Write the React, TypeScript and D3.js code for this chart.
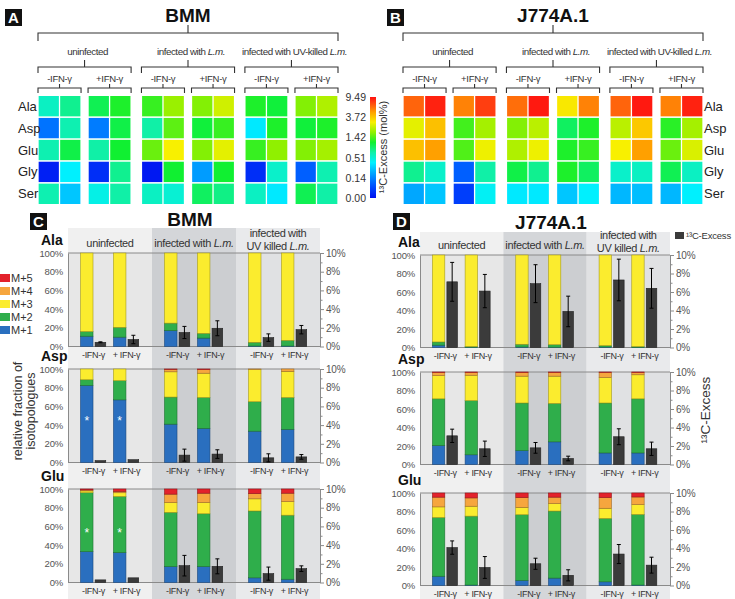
import React, { useEffect, useRef } from "react";
import * as d3 from "d3";

const FONT = "'Liberation Sans', Arial, sans-serif";

const aminoAcids = ["Ala", "Asp", "Glu", "Gly", "Ser"];
const groups = ["uninfected", "infected with L.m.", "infected with UV-killed L.m."];
const groupHeaders = [["uninfected"], ["infected with L.m."], ["infected with", "UV killed L.m."]];
const ifnHeat = ["-IFN-γ", "+IFN-γ"];
const ifnBar = ["-IFN-γ", "+ IFN-γ"];
const excessTicks = [0, 0.14, 0.51, 1.42, 3.72, 9.49];
const isoKeys = ["M+1", "M+2", "M+3", "M+4", "M+5"];
const isoColors = ["#2a6fbf", "#2fae4b", "#fbec2e", "#f6a63e", "#e3222b"];

// 13C-excess (mol%) per amino acid row, 12 columns: 3 groups x 2 IFN x 2 replicates
const bmmHeat = [
  [0.6, 0.83, 1.06, 1.24, 1.33, 2.11, 1.88, 2.69, 1.24, 1.15, 1.88, 2.34],
  [0.12, 0.69, 0.13, 1.1, 0.74, 1.54, 1.15, 1.33, 0.4, 1.24, 1.15, 1.24],
  [0.69, 1.1, 0.74, 1.19, 1.65, 3.15, 1.88, 2.92, 1.33, 2.0, 1.88, 2.23],
  [0.02, 0.42, 0.04, 0.83, 0.01, 1.19, 0.2, 1.19, 0.04, 0.56, 0.1, 0.69],
  [0.69, 0.31, 0.47, 0.74, 0.6, 0.51, 1.01, 0.87, 0.6, 0.4, 1.06, 0.74],
];
const j774Heat = [
  [6.89, 8.91, 6.03, 8.05, 6.61, 9.2, 3.26, 6.03, 6.89, 9.2, 6.03, 8.91],
  [2.92, 4.01, 1.37, 2.23, 1.88, 2.46, 1.01, 1.24, 2.46, 3.72, 1.28, 2.23],
  [4.01, 5.16, 1.42, 3.03, 2.34, 3.03, 1.24, 1.33, 3.15, 5.16, 1.65, 2.8],
  [0.83, 0.56, 0.1, 0.74, 1.1, 0.83, 1.24, 1.01, 0.56, 0.6, 1.06, 0.6],
  [0.23, 0.31, 0.06, 0.44, 0.4, 0.4, 0.31, 0.42, 0.27, 0.29, 0.27, 0.42],
];

// isotopologue fractions (%) M+1..M+5, six conditions each
const bmmAlaIso = [[11, 5, 84, 0, 0], [10, 10.5, 79.5, 0, 0], [17, 8, 75, 0, 0], [9, 5, 86, 0, 0], [0.5, 4, 95.5, 0, 0], [0.5, 6, 93.5, 0, 0]];
const bmmAlaExcess = [0.45, 0.75, 1.5, 1.95, 0.95, 1.8];
const bmmAlaErr = [0.05, 0.45, 0.65, 0.8, 0.4, 0.45];
const bmmAspIso = [[82.5, 6, 11.5, 0, 0], [67, 20.5, 12.5, 0, 0], [41, 29, 27, 2.5, 0.5], [36.5, 33, 26, 3.8, 0.7], [33.5, 31.5, 34.5, 0.5, 0], [35.5, 34, 28, 2.5, 0]];
const bmmAspExcess = [0.2, 0.3, 0.79, 0.9, 0.5, 0.6];
const bmmAspErr = [0, 0, 0.64, 0.46, 0.43, 0.25];
const bmmGluIso = [[33, 63, 2, 1, 1], [32, 60, 4, 1.5, 2.5], [17, 58, 10.5, 9, 5.5], [17, 56.5, 12, 10, 4.5], [5, 71.5, 13, 5.5, 5], [3.5, 68.5, 14.5, 9, 4.5]];
const bmmGluExcess = [0.28, 0.5, 1.8, 1.73, 0.95, 1.48];
const bmmGluErr = [0, 0, 1.1, 0.8, 0.7, 0.3];

const j774AlaIso = [[2.5, 3.5, 94, 0, 0], [0.3, 0.7, 99, 0, 0], [0.5, 3, 96.5, 0, 0], [0.3, 2.7, 97, 0, 0], [0.5, 1.5, 98, 0, 0], [0.2, 0.8, 99, 0, 0]];
const j774AlaExcess = [7.1, 6.1, 6.9, 3.9, 7.3, 6.4];
const j774AlaErr = [2.1, 1.8, 2.05, 1.65, 2.25, 2.15];
const j774AspIso = [[20.5, 50.5, 25, 3.5, 0.5], [10.5, 58.5, 27.5, 3, 0.5], [15, 51.5, 29, 4, 0.5], [24.5, 41.5, 29.5, 4, 0.5], [12.5, 54, 27.5, 5.5, 0.5], [12.5, 58.5, 26, 2.5, 0.5]];
const j774AspExcess = [3.1, 1.7, 1.8, 0.65, 3.0, 1.7];
const j774AspErr = [0.72, 0.83, 0.58, 0.25, 0.86, 0.72];
const j774GluIso = [[10, 63.5, 11.5, 10.5, 4.5], [0.5, 74.5, 10.7, 9, 5.3], [5.5, 71, 8, 10.5, 5], [8, 72.5, 8, 7, 4.5], [4, 68.5, 11, 11.5, 5], [0.5, 76.3, 10.7, 8.2, 4.3]];
const j774GluExcess = [4.1, 1.95, 2.35, 1.1, 3.4, 2.2];
const j774GluErr = [0.72, 1.18, 0.6, 0.6, 1.03, 0.86];

// significance marks (bar index, level in %)
const bmmAspStars = [[0, 45], [1, 45]];
const bmmGluStars = [[0, 54], [1, 54]];

const jetStops: [number, string][] = [
  [0, "#0010f0"], [0.12, "#0050ff"], [0.25, "#00a8ff"], [0.35, "#00f0ff"],
  [0.45, "#10f0a8"], [0.55, "#10f030"], [0.65, "#90f000"], [0.75, "#f8f000"],
  [0.85, "#ffa000"], [0.93, "#ff5010"], [1, "#ff1010"],
];
const jet = d3.scaleLinear<string>().domain(jetStops.map((s) => s[0])).range(jetStops.map((s) => s[1])).interpolate(d3.interpolateRgb);
const excessPos = d3.scaleLinear().domain(excessTicks).range([0, 0.2, 0.4, 0.6, 0.8, 1]).clamp(true);
const heatColor = (v: number) => jet(excessPos(v));

function richText(sel: any, str: string) {
  str.split(/(L\.m\.)/).filter((p) => p).forEach((p) => {
    sel.append("tspan").attr("font-style", p === "L.m." ? "italic" : null).text(p);
  });
}

function bracket(g: any, x0: number, x1: number, y: number, drop: number, rise: number) {
  const m = (x0 + x1) / 2;
  g.append("path")
    .attr("d", `M${x0},${y + drop}V${y}H${x1}V${y + drop}M${m},${y}V${y - rise}`)
    .attr("fill", "none").attr("stroke", "#333").attr("stroke-width", 1.1);
}

function letterBox(svg: any, letter: string, x: number, y: number) {
  svg.append("rect").attr("x", x).attr("y", y).attr("width", 17).attr("height", 17).attr("fill", "#111");
  svg.append("text").attr("x", x + 8.5).attr("y", y + 14).attr("text-anchor", "middle")
    .attr("font-family", FONT).attr("font-weight", "bold").attr("font-size", 15).attr("fill", "#fff").text(letter);
}

function drawHeatmap(svg: any, o: any) {
  const g = svg.append("g").attr("font-family", FONT);
  const gx = d3.scaleBand<string>().domain(groups).range([o.x0, o.x1]).paddingInner(0.1);
  const sx = d3.scaleBand<string>().domain(ifnHeat).range([0, gx.bandwidth()]).paddingInner(0.14);
  const cx = d3.scaleBand<number>().domain([0, 1]).range([0, sx.bandwidth()]).paddingInner(0.06).paddingOuter(0.03);
  const ry = d3.scaleBand<string>().domain(aminoAcids).range([96, 204]).paddingInner(0.07);

  g.append("text").attr("x", (o.x0 + o.x1) / 2).attr("y", 22).attr("text-anchor", "middle")
    .attr("font-weight", "bold").attr("font-size", 19).attr("fill", "#111").text(o.title);
  bracket(g, o.x0, o.x1, 33, 8, 8);

  groups.forEach((grp, gi) => {
    const gx0 = gx(grp)!;
    bracket(g, gx0, gx0 + gx.bandwidth(), 67, 6, 7);
    const t = g.append("text").attr("x", gx0 + gx.bandwidth() / 2 + 3).attr("y", 55)
      .attr("text-anchor", "middle").attr("font-size", 9.8).attr("letter-spacing", -0.45).attr("fill", "#333");
    richText(t, grp);
    ifnHeat.forEach((s, si) => {
      const sx0 = gx0 + sx(s)!;
      bracket(g, sx0, sx0 + sx.bandwidth(), 88, 5, 4);
      g.append("text").attr("x", sx0 + sx.bandwidth() / 2).attr("y", 82).attr("text-anchor", "middle")
        .attr("font-size", 9.5).attr("letter-spacing", -0.3).attr("fill", "#333").text(s);
      [0, 1].forEach((k) => {
        const col = gi * 4 + si * 2 + k;
        aminoAcids.forEach((aa, r) => {
          g.append("rect").attr("x", sx0 + cx(k)!).attr("y", ry(aa)!)
            .attr("width", cx.bandwidth()).attr("height", ry.bandwidth())
            .attr("fill", heatColor(o.data[r][col]));
        });
      });
    });
  });

  aminoAcids.forEach((aa) => {
    g.append("text").attr("x", o.labelX).attr("y", ry(aa)! + ry.bandwidth() / 2 + 4.5)
      .attr("font-size", 13).attr("fill", "#222").text(aa);
  });
}

function drawColorbar(svg: any) {
  const defs = svg.append("defs");
  const grad = defs.append("linearGradient").attr("id", "jetGrad")
    .attr("x1", 0).attr("y1", 1).attr("x2", 0).attr("y2", 0);
  d3.range(0, 1.0001, 0.05).forEach((t) => {
    grad.append("stop").attr("offset", `${t * 100}%`).attr("stop-color", jet(t));
  });
  const y = d3.scaleLinear().domain([0, 1]).range([198, 97]);
  svg.append("rect").attr("x", 370).attr("y", y(1)).attr("width", 6).attr("height", y(0) - y(1))
    .attr("fill", "url(#jetGrad)");
  excessTicks.forEach((v) => {
    svg.append("text").attr("x", 366).attr("y", y(excessPos(v)) + 4).attr("text-anchor", "end")
      .attr("font-family", FONT).attr("font-size", 10.5).attr("fill", "#333").text(v.toFixed(2));
  });
  svg.append("text").attr("transform", "translate(387,147) rotate(-90)").attr("text-anchor", "middle")
    .attr("font-family", FONT).attr("font-size", 11).attr("fill", "#333").text("¹³C-Excess (mol%)");
}

function drawIsoPanel(svg: any, o: any) {
  const g = svg.append("g").attr("font-family", FONT);
  const gx = d3.scaleBand<string>().domain(groups).range([o.x0, o.x1]);
  const sx = d3.scaleBand<string>().domain(ifnBar).range([0, gx.bandwidth()]).paddingInner(0.21).paddingOuter(0.38);
  const bw = sx.bandwidth();
  const firstTop = o.tops[0];

  // shaded condition columns
  groups.forEach((grp, gi) => {
    g.append("rect").attr("x", gx(grp)!).attr("y", o.headerTop).attr("width", gx.bandwidth())
      .attr("height", 599 - o.headerTop).attr("fill", o.bandColors[gi]);
    const lines = groupHeaders[gi];
    lines.forEach((ln, li) => {
      const t = g.append("text").attr("x", gx(grp)! + gx.bandwidth() / 2)
        .attr("y", lines.length === 1 ? firstTop - 6 : firstTop - 16 + li * 12.5)
        .attr("text-anchor", "middle").attr("font-size", 11).attr("letter-spacing", -0.35).attr("fill", "#333");
      richText(t, ln);
    });
  });

  g.append("text").attr("x", o.titleX).attr("y", o.titleY).attr("text-anchor", "middle")
    .attr("font-weight", "bold").attr("font-size", 19).attr("fill", "#111").text(o.title);

  const stack = d3.stack<number[], number>().keys([0, 1, 2, 3, 4]).value((d, k) => d[k]);

  o.rows.forEach((row: any, ri: number) => {
    const top = o.tops[ri];
    const bottom = top + o.h;
    const y = d3.scaleLinear().domain([0, 100]).range([bottom, top]);
    const yEx = d3.scaleLinear().domain([0, 10]).range([bottom, top]);

    g.append("rect").attr("x", o.x0).attr("y", top).attr("width", o.x1 - o.x0).attr("height", o.h)
      .attr("fill", "#000").attr("fill-opacity", 0.035);

    g.append("text").attr("x", o.labelX).attr("y", top - 8).attr("font-weight", "bold")
      .attr("font-size", 14).attr("fill", "#111").text(row.name);

    const left = g.append("g").attr("transform", `translate(${o.x0},0)`)
      .call(d3.axisLeft(y).tickValues([0, 20, 40, 60, 80, 100]).tickSize(0).tickPadding(5).tickFormat((d: any) => `${d}%`));
    left.select(".domain").attr("stroke", "#8a8a8a");
    left.selectAll("text").attr("font-family", FONT).attr("font-size", 9.5).attr("letter-spacing", -0.2).attr("fill", "#555");

    const right = g.append("g").attr("transform", `translate(${o.x1},0)`)
      .call(d3.axisRight(yEx).tickValues(d3.range(0, 11)).tickSize(3).tickSizeOuter(0).tickPadding(3)
        .tickFormat((d: any) => (d % 2 === 0 ? `${d}%` : "")));
    right.select(".domain").attr("stroke", "#8a8a8a");
    right.selectAll(".tick line").attr("stroke", "#8a8a8a").attr("x2", (d: any) => (d % 2 === 0 ? 4 : 2.5));
    right.selectAll("text").attr("font-family", FONT).attr("font-size", 10).attr("letter-spacing", -0.2).attr("fill", "#555");

    [0, 100].forEach((v) => {
      g.append("line").attr("x1", o.x0).attr("x2", o.x1).attr("y1", y(v)).attr("y2", y(v))
        .attr("stroke", "#8a8a8a").attr("stroke-width", 1);
    });

    const series = stack(row.iso);
    row.iso.forEach((_: any, i: number) => {
      const ux = gx(groups[Math.floor(i / 2)])! + sx(ifnBar[i % 2])!;
      const isoW = bw * 0.48;
      series.forEach((s, k) => {
        const [a, b] = s[i];
        if (b - a <= 0) return;
        g.append("rect").attr("x", ux).attr("y", y(b)).attr("width", isoW).attr("height", y(a) - y(b))
          .attr("fill", isoColors[k]).attr("stroke", d3.color(isoColors[k])!.darker(1.2).formatHex())
          .attr("stroke-width", 0.6);
      });
      const ex = ux + bw * 0.56;
      const exW = bw * 0.41;
      const v = row.excess[i];
      const e = row.err[i];
      g.append("rect").attr("x", ex).attr("y", yEx(v)).attr("width", exW).attr("height", yEx(0) - yEx(v))
        .attr("fill", "#3b3b3b").attr("stroke", "#222").attr("stroke-width", 0.6);
      if (e > 0) {
        const mx = ex + exW / 2;
        const lo = yEx(Math.max(0, v - e));
        const hi = yEx(v + e);
        g.append("path").attr("d", `M${mx},${lo}V${hi}M${mx - 2},${hi}H${mx + 2}M${mx - 2},${lo}H${mx + 2}`)
          .attr("stroke", "#000").attr("stroke-width", 1).attr("fill", "none");
      }
      g.append("text").attr("x", ux + bw / 2).attr("y", bottom + 11).attr("text-anchor", "middle")
        .attr("font-size", 9).attr("letter-spacing", -0.35).attr("fill", "#333").text(ifnBar[i % 2]);
    });

    (row.stars || []).forEach(([i, lvl]: number[]) => {
      const ux = gx(groups[Math.floor(i / 2)])! + sx(ifnBar[i % 2])!;
      g.append("text").attr("x", ux + bw * 0.24).attr("y", y(lvl) + 5).attr("text-anchor", "middle")
        .attr("font-size", 12).attr("fill", "#fff").text("*");
    });
  });
}

export default function App() {
  const ref = useRef<SVGSVGElement>(null);

  useEffect(() => {
    document.body.style.margin = "0";
    const svg = d3.select(ref.current);
    svg.selectAll("*").remove();

    letterBox(svg, "A", 5, 9);
    letterBox(svg, "B", 387, 9);
    letterBox(svg, "C", 30, 213);
    letterBox(svg, "D", 393, 213);

    drawHeatmap(svg, { x0: 38, x1: 338, data: bmmHeat, title: "BMM", labelX: 18 });
    drawHeatmap(svg, { x0: 403, x1: 703, data: j774Heat, title: "J774A.1", labelX: 704 });
    drawColorbar(svg);

    drawIsoPanel(svg, {
      x0: 68, x1: 320, tops: [253, 369, 489], h: 93.5, headerTop: 228,
      title: "BMM", titleX: 190, titleY: 226, labelX: 41,
      bandColors: ["#f0f0f0", "#d4d6d9", "#e9eaec"],
      rows: [
        { name: "Ala", iso: bmmAlaIso, excess: bmmAlaExcess, err: bmmAlaErr },
        { name: "Asp", iso: bmmAspIso, excess: bmmAspExcess, err: bmmAspErr, stars: bmmAspStars },
        { name: "Glu", iso: bmmGluIso, excess: bmmGluExcess, err: bmmGluErr, stars: bmmGluStars },
      ],
    });
    drawIsoPanel(svg, {
      x0: 420, x1: 670, tops: [255, 372, 493], h: 92.5, headerTop: 232,
      title: "J774A.1", titleX: 551, titleY: 229, labelX: 398,
      bandColors: ["#f0f0f0", "#d4d6d9", "#e9eaec"],
      rows: [
        { name: "Ala", iso: j774AlaIso, excess: j774AlaExcess, err: j774AlaErr },
        { name: "Asp", iso: j774AspIso, excess: j774AspExcess, err: j774AspErr },
        { name: "Glu", iso: j774GluIso, excess: j774GluExcess, err: j774GluErr },
      ],
    });

    // isotopologue legend
    const leg = svg.append("g").attr("font-family", FONT);
    isoKeys.slice().reverse().forEach((k, i) => {
      const yy = 278 + i * 13;
      leg.append("rect").attr("x", 0).attr("y", yy - 4).attr("width", 10).attr("height", 8)
        .attr("fill", isoColors[isoKeys.indexOf(k)]);
      leg.append("text").attr("x", 11).attr("y", yy + 4).attr("font-size", 11).attr("fill", "#333").text(k);
    });
    ["relative fraction of", "isotopologues"].forEach((ln, i) => {
      leg.append("text").attr("transform", `translate(${22 + i * 13},411) rotate(-90)`)
        .attr("text-anchor", "middle").attr("font-size", 12.5).attr("fill", "#333").text(ln);
    });

    // excess legend and right-hand axis title
    leg.append("rect").attr("x", 675).attr("y", 232).attr("width", 9).attr("height", 7).attr("fill", "#3b3b3b");
    leg.append("text").attr("x", 686).attr("y", 239).attr("font-size", 9.5).attr("letter-spacing", -0.2)
      .attr("fill", "#333").text("¹³C-Excess");
    leg.append("text").attr("transform", "translate(710,410) rotate(-90)").attr("text-anchor", "middle")
      .attr("font-size", 13.5).attr("fill", "#333").text("¹³C-Excess");
  }, []);

  return <svg ref={ref} width={735} height={599} style={{ display: "block", background: "#fff" }} />;
}
